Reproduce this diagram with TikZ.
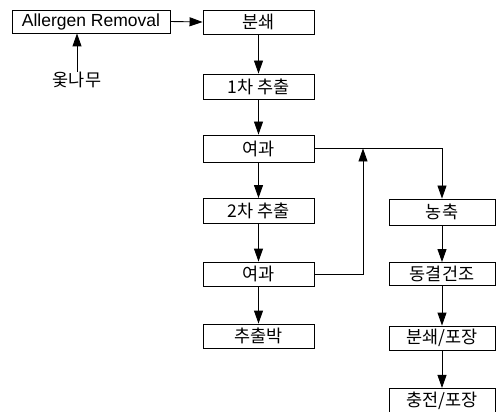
\documentclass[tikz,border=0pt]{standalone}
\usepackage{fontspec}
\setmainfont{Liberation Sans}
\newfontfamily\krfont{Noto Sans CJK KR}
\usetikzlibrary{arrows.meta}
\begin{document}
\begin{tikzpicture}[x=1pt,y=-1pt,
  box/.style={draw, line width=0.9pt, minimum width=111pt, minimum height=25pt, inner sep=0pt,
    font=\krfont\fontsize{17.5}{17.5}\selectfont},
  arr/.style={-{Triangle[length=13pt,width=9pt]}, line width=0.9pt},
  lbl/.style={inner sep=0pt, font=\krfont\fontsize{17.5}{17.5}\selectfont}]
\useasboundingbox (0,0) rectangle (499,412);
% left column
\node[box, minimum width=158pt, minimum height=23pt, font=\fontsize{17.5}{17.5}\selectfont] (ar) at (91,21.5) {Allergen Removal};
\node[lbl] (oh) at (77,80) {옻나무};
\node[box, minimum height=24pt] (b1) at (258.5,22) {분쇄};
\node[box] (c1) at (258.5,86.5) {1차 추출};
\node[box, minimum height=27pt] (f1) at (258.5,148.5) {여과};
\node[box] (c2) at (258.5,211) {2차 추출};
\node[box, minimum height=24pt] (f2) at (258.5,274) {여과};
\node[box, minimum height=24pt] (r) at (258.5,336) {추출박};
% right column
\node[box, minimum width=106pt, minimum height=26pt] (n) at (442,212) {농축};
\node[box, minimum width=106pt, minimum height=23pt] (d) at (442,274) {동결건조};
\node[box, minimum width=106pt, minimum height=24pt] (p1) at (442,338) {분쇄/포장};
\node[box, minimum width=106pt, minimum height=24pt] (p2) at (442,400.4) {충전/포장};
\coordinate (j) at (363,148.5);
% connectors
\draw[arr] (oh.north) -- (oh.north |- ar.south);
\draw[arr] (ar.east) -- (b1.west);
\draw[arr] (b1) -- (c1);
\draw[arr] (c1) -- (f1);
\draw[arr] (f1) -- (c2);
\draw[arr] (c2) -- (f2);
\draw[arr] (f2) -- (r);
\draw[arr] (f1.east) -| (n.north);
\draw[arr] (f2.east) -| (j);
\draw[arr] (n) -- (d);
\draw[arr] (d) -- (p1);
\draw[arr] (p1) -- (p2);
\end{tikzpicture}
\end{document}
